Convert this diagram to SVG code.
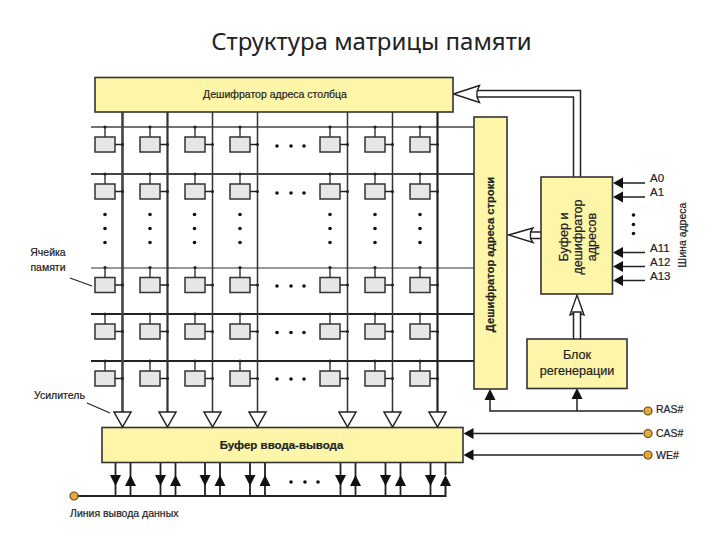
<svg xmlns="http://www.w3.org/2000/svg" width="720" height="540" viewBox="0 0 720 540">
<style>
.y{fill:#fdf5a8;stroke:#333;stroke-width:1.6}
.t{font-family:"Liberation Sans",Arial,sans-serif;font-size:10.5px;fill:#222;stroke:#222;stroke-width:.2}
.b{font-size:12.6px}
.m{text-anchor:middle}
.l{fill:none;stroke:#222;stroke-width:1.5}
.bk{fill:#111}
.p{fill:#e9a93a;stroke:#5a4a20;stroke-width:1.2}
.h{fill:#fff;stroke:#222;stroke-width:1.4;stroke-linejoin:miter}
.tr{fill:#fff;stroke:#222;stroke-width:1.5}
.d{fill:#111}
</style>
<defs>
<g id="cell">
<path d="M-17.5 0V10M-7.5 17.5H0" fill="none" stroke="#222" stroke-width="1.3"/>
<circle cx="-17.5" cy="0" r="1.6" fill="#222"/>
<circle cx="0" cy="17.5" r="1.5" fill="#222"/>
<rect x="-27.5" y="10" width="20" height="15" fill="#e6e6e6" stroke="#333" stroke-width="1.5"/>
</g>
<g id="hd"><circle cx="-14" cy="0" r="1.8" class="d"/><circle cx="0" cy="0" r="1.8" class="d"/><circle cx="13" cy="0" r="1.8" class="d"/></g>
<g id="vd"><circle cx="0" cy="0" r="1.8" class="d"/><circle cx="0" cy="14" r="1.8" class="d"/><circle cx="0" cy="28" r="1.8" class="d"/></g>
<path id="dn" d="M-5.500 475H5.500L0 486Z" class="bk"/>
<path id="up" d="M-5.500 486H5.500L0 475Z" class="bk"/>
<path id="lf" d="M0 0L10 -5.500V5.500Z" class="bk"/>
<path id="amp" d="M-8.500 412H8.500L0 427Z" class="tr"/>
</defs>
<text x="371.500" y="50" text-anchor="middle" font-family="'Noto Sans','Open Sans',sans-serif" font-size="24" fill="#222">Структура матрицы памяти</text>

<g id="connectors">
<g fill="none" stroke="#333">
<path d="M91 127H474" stroke-width="1.6" stroke="#444"/>
<path d="M91 174H474" stroke-width="2.2" stroke="#444"/>
<path d="M91 268H474" stroke-width="1.1"/>
<path d="M91 314H474" stroke-width="2.2" stroke="#222"/>
<path d="M91 361H474" stroke-width="2" stroke="#222"/>
<path d="M122.500 112V413" stroke-width="2.6" stroke="#444"/>
<path d="M167.500 112V413" stroke-width="2.2" stroke="#333"/>
<path d="M212.500 112V413" stroke-width="1.5"/>
<path d="M257.500 112V413" stroke-width="1.5"/>
<path d="M347.500 112V413" stroke-width="1.5"/>
<path d="M392.500 112V413" stroke-width="1.5"/>
<path d="M437.500 112V413" stroke-width="2.2" stroke="#222"/>
</g>
<path d="M573.500 177V97H476M580.500 177V90.500H476" class="l"/>
<path d="M453.500 94L479.500 85.500L477 91.500V97L479.500 102.500Z" class="h"/>
<path d="M541 232H530M541 238.500H530" class="l"/>
<path d="M508.500 235L533 228L530.500 232V238.500L533 242.500Z" class="h"/>
<path d="M573.500 339V312M580.500 339V312" class="l"/>
<path d="M577 295L584 315L581 314V312H573V314L570 315Z" class="h"/>
<g class="l">
<path d="M645 183H620M645 197H620M645 252.500H620M645 266.500H620M645 280.500H620"/>
<path d="M643 411H490V399M577 411V399M643 433.500H470M643 455H470"/>
<path d="M74 496H445.500V486" stroke-width="2"/>
<path d="M115.500 462V496M130.500 462V496M160.500 462V496M175.500 462V496M205 462V496M220 462V496M250 462V496M265 462V496M340.500 462V496M355.500 462V496M385.500 462V496M400.500 462V496M430.500 462V496M445.500 462V475" stroke-width="1.800"/>
<path d="M70 278L92 286M87 403L110 413" stroke-width="1.2"/>
</g>
<use href="#lf" x="613" y="183"/><use href="#lf" x="613" y="197"/><use href="#lf" x="613" y="252.500"/><use href="#lf" x="613" y="266.500"/><use href="#lf" x="613" y="280.500"/>
<use href="#lf" x="463.500" y="433.500"/><use href="#lf" x="463.500" y="455"/>
<path d="M490 389L495.500 400H484.500Z" class="bk"/><path d="M577 388L582.500 399H571.500Z" class="bk"/>
<use href="#dn" x="115.500"/><use href="#up" x="130.500"/><use href="#dn" x="160.500"/><use href="#up" x="175.500"/><use href="#dn" x="205"/><use href="#up" x="220"/><use href="#dn" x="250"/><use href="#up" x="265"/><use href="#dn" x="340.500"/><use href="#up" x="355.500"/><use href="#dn" x="385.500"/><use href="#up" x="400.500"/><use href="#dn" x="430.500"/><use href="#up" x="445.500"/>
</g>

<g id="col-decoder"><rect class="y" x="95" y="77.500" width="358" height="34.500"/><text class="t m" x="275" y="98">Дешифратор адреса столбца</text></g>
<g id="row-decoder"><rect class="y" x="474" y="117" width="33" height="272"/><text class="t m" transform="translate(494,254.500) rotate(-90)" font-weight="bold" style="font-size:11.2px">Дешифратор адреса строки</text></g>
<g id="addr-buffer"><rect class="y" x="541" y="177" width="71.500" height="117"/><text class="t m b" transform="translate(568,237) rotate(-90)">Буфер и</text><text class="t m b" transform="translate(582,237) rotate(-90)">дешифратор</text><text class="t m b" transform="translate(596,237) rotate(-90)">адресов</text></g>
<g id="refresh"><rect class="y" x="527" y="339" width="100" height="49.500"/><text class="t m b" x="577" y="359">Блок</text><text class="t m b" x="577" y="375">регенерации</text></g>
<g id="io-buffer"><rect class="y" x="102" y="427.500" width="361" height="35"/><text class="t m" x="281.500" y="449" font-weight="bold" style="font-size:11.500px">Буфер ввода-вывода</text></g>

<g id="cells">
<g id="c11" transform="translate(122.500,127)"><use href="#cell"/></g><g id="c12" transform="translate(167.500,127)"><use href="#cell"/></g><g id="c13" transform="translate(212.500,127)"><use href="#cell"/></g><g id="c14" transform="translate(257.500,127)"><use href="#cell"/></g><g id="c15" transform="translate(347.500,127)"><use href="#cell"/></g><g id="c16" transform="translate(392.500,127)"><use href="#cell"/></g><g id="c17" transform="translate(437.500,127)"><use href="#cell"/></g>
<g id="c21" transform="translate(122.500,174)"><use href="#cell"/></g><g id="c22" transform="translate(167.500,174)"><use href="#cell"/></g><g id="c23" transform="translate(212.500,174)"><use href="#cell"/></g><g id="c24" transform="translate(257.500,174)"><use href="#cell"/></g><g id="c25" transform="translate(347.500,174)"><use href="#cell"/></g><g id="c26" transform="translate(392.500,174)"><use href="#cell"/></g><g id="c27" transform="translate(437.500,174)"><use href="#cell"/></g>
<g id="c31" transform="translate(122.500,267.500)"><use href="#cell"/></g><g id="c32" transform="translate(167.500,267.500)"><use href="#cell"/></g><g id="c33" transform="translate(212.500,267.500)"><use href="#cell"/></g><g id="c34" transform="translate(257.500,267.500)"><use href="#cell"/></g><g id="c35" transform="translate(347.500,267.500)"><use href="#cell"/></g><g id="c36" transform="translate(392.500,267.500)"><use href="#cell"/></g><g id="c37" transform="translate(437.500,267.500)"><use href="#cell"/></g>
<g id="c41" transform="translate(122.500,314)"><use href="#cell"/></g><g id="c42" transform="translate(167.500,314)"><use href="#cell"/></g><g id="c43" transform="translate(212.500,314)"><use href="#cell"/></g><g id="c44" transform="translate(257.500,314)"><use href="#cell"/></g><g id="c45" transform="translate(347.500,314)"><use href="#cell"/></g><g id="c46" transform="translate(392.500,314)"><use href="#cell"/></g><g id="c47" transform="translate(437.500,314)"><use href="#cell"/></g>
<g id="c51" transform="translate(122.500,361)"><use href="#cell"/></g><g id="c52" transform="translate(167.500,361)"><use href="#cell"/></g><g id="c53" transform="translate(212.500,361)"><use href="#cell"/></g><g id="c54" transform="translate(257.500,361)"><use href="#cell"/></g><g id="c55" transform="translate(347.500,361)"><use href="#cell"/></g><g id="c56" transform="translate(392.500,361)"><use href="#cell"/></g><g id="c57" transform="translate(437.500,361)"><use href="#cell"/></g>
</g>

<g id="amplifiers"><use href="#amp" x="122.500"/><use href="#amp" x="167.500"/><use href="#amp" x="212.500"/><use href="#amp" x="257.500"/><use href="#amp" x="347.500"/><use href="#amp" x="392.500"/><use href="#amp" x="437.500"/></g>

<g id="ellipses">
<use href="#hd" x="291" y="146"/><use href="#hd" x="291" y="193"/><use href="#hd" x="291" y="286"/><use href="#hd" x="291" y="332.500"/><use href="#hd" x="291" y="379"/><use href="#hd" x="305" y="482"/>
<use href="#vd" x="105" y="214.500"/><use href="#vd" x="150" y="214.500"/><use href="#vd" x="194.500" y="214.500"/><use href="#vd" x="240" y="214.500"/><use href="#vd" x="330" y="214.500"/><use href="#vd" x="375" y="214.500"/><use href="#vd" x="420" y="214.500"/>
<circle cx="633.500" cy="215" r="1.8" class="d"/><circle cx="633.500" cy="224.500" r="1.8" class="d"/><circle cx="633.500" cy="233.500" r="1.8" class="d"/>
</g>

<g id="pins">
<circle class="p" cx="648" cy="411" r="4"/><circle class="p" cx="648" cy="433.500" r="4"/><circle class="p" cx="648" cy="455" r="4"/><circle class="p" cx="74" cy="496" r="4"/>
</g>

<g id="labels">
<text class="t" x="650" y="182" style="font-size:11.500px">A0</text><text class="t" x="650" y="196" style="font-size:11.500px">A1</text><text class="t" x="650" y="252" style="font-size:11.500px">A11</text><text class="t" x="650" y="266" style="font-size:11.500px">A12</text><text class="t" x="650" y="280" style="font-size:11.500px">A13</text>
<text class="t m" transform="translate(686,235) rotate(-90)">Шина адреса</text>
<text class="t" x="656" y="413">RAS#</text><text class="t" x="656" y="437">CAS#</text><text class="t" x="656" y="459">WE#</text>
<text class="t m" x="48" y="256">Ячейка</text><text class="t m" x="48" y="271">памяти</text>
<text class="t" x="34" y="399">Усилитель</text>
<text class="t" x="70" y="517">Линия вывода данных</text>
</g>
</svg>
